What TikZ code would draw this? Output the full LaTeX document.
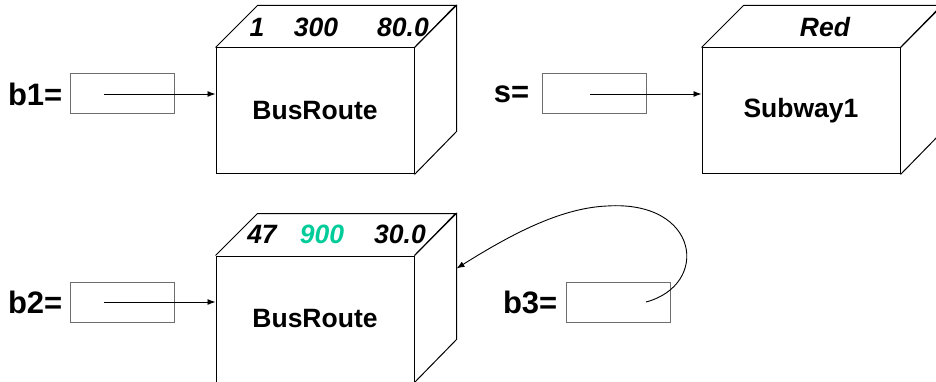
\documentclass[tikz,border=0pt]{standalone}
\usepackage{fontspec}
\setmainfont{Liberation Sans}
\usepackage{tikz}
\usetikzlibrary{positioning, arrows.meta, calc}
\definecolor{fieldgreen}{RGB}{0,204,153}
\definecolor{refgray}{RGB}{110,110,110}
\tikzset{
  front/.style={
    draw, line width=1pt, minimum width=198pt, minimum height=126pt,
    inner sep=0pt, font=\fontsize{26.5}{26.5}\selectfont\bfseries
  },
  refbox/.style={draw=refgray, line width=1pt, minimum width=104pt, minimum height=40pt, inner sep=0pt},
  varname/.style={inner sep=0pt, font=\fontsize{31}{31}\selectfont\bfseries},
  field/.style={inner sep=0pt, font=\fontsize{26.5}{26.5}\selectfont\bfseries\itshape},
  pointer/.style={draw, line width=0.9pt, -{Latex[length=8pt,width=6pt]}},
}
% back faces of a box: top and right side
\newcommand{\cubefaces}[1]{%
  \draw[line width=1pt] (#1.north west) -- ++(42,-42) -- ++(198,0) -- (#1.north east);
  \draw[line width=1pt] (#1.north east) -- ++(42,-42) -- ++(0,126) -- (#1.south east);
}

\begin{document}
\begin{tikzpicture}[x=1pt, y=-1pt]
  \clip (0,0) rectangle (936,382);

  % objects
  \node[front] (bus1) at (315,111) {\raisebox{-2pt}{BusRoute}};
  \node[front] (sub1) at (801,111) {\raisebox{-2pt}{Subway1}};
  \node[front] (bus2) at (315,319) {\raisebox{-2pt}{BusRoute}};
  \cubefaces{bus1}
  \cubefaces{sub1}
  \cubefaces{bus2}

  % fields
  \node[field] (b1f1) at ($(bus1)+(-58,-84)$) {1};
  \node[field] (b1f2) at ($(bus1)+(1,-84)$) {300};
  \node[field] (b1f3) at ($(bus1)+(88,-84)$) {80.0};
  \node[field] (sf1) at ($(sub1)+(24,-84)$) {Red};
  \node[field] (b2f1) at ($(bus2)+(-53,-85)$) {47};
  \node[field, text=fieldgreen] (b2f2) at ($(bus2)+(7,-85)$) {900};
  \node[field] (b2f3) at ($(bus2)+(85,-85)$) {30.0};

  % references
  \node[refbox] (b1box) at (122,94) {};
  \node[refbox] (sbox) at (594,94) {};
  \node[refbox] (b2box) at (122,302) {};
  \node[refbox] (b3box) at (618,302) {};
  \node[varname, left=7pt of b1box] (b1) {b1=};
  \node[varname, left=12pt of sbox] (s) {s=};
  \node[varname, left=7pt of b2box] (b2) {b2=};
  \node[varname, left=8pt of b3box] (b3) {b3=};

  \draw[pointer] ([xshift=-18pt]b1box.center) -- (bus1.west |- b1box.center);
  \draw[pointer] ([xshift=-4pt]sbox.center) -- (sub1.west |- sbox.center);
  \draw[pointer] ([xshift=-18pt]b2box.center) -- (bus2.west |- b2box.center);

  \coordinate (b3tail) at ([xshift=28pt]b3box.center);
  \coordinate (b3head) at ($(bus2.north east)+(42,13)$);
  \coordinate (b3top) at (607,206);
  \draw[pointer] (b3tail) .. controls (710,285) and (700,200) .. (b3top)
    .. controls (560,208) and (510,235) .. (b3head);
\end{tikzpicture}
\end{document}
